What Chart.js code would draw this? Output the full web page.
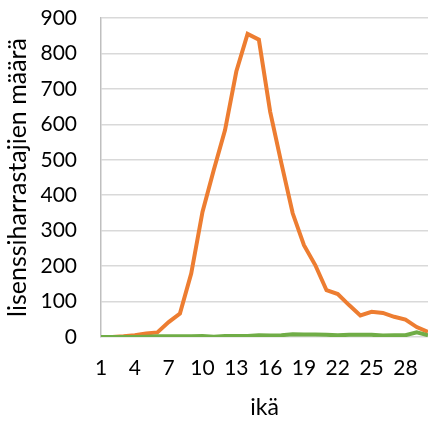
<!DOCTYPE html>
<html>
<head>
<meta charset="utf-8">
<script src="https://cdn.jsdelivr.net/npm/chart.js@4/dist/chart.umd.min.js"></script>
<style>
  body { margin: 0; background: #fff; }
  canvas { display: block; }
</style>
</head>
<body>
<canvas id="chart" width="428" height="423"></canvas>
<script>
// ikä 1..30
const ages = Array.from({ length: 30 }, (_, i) => String(i + 1));
// oranssi sarja
const orangeValues = [0, 0, 2, 5, 10, 13, 42, 66, 179, 353, 471, 584, 749, 855, 839,
  636, 490, 349, 259, 203, 132, 121, 90, 61, 71, 68, 57, 49, 28, 14];
// vihreä sarja
const greenValues = [0, 0, 0, 0, 1, 2, 2, 2, 2, 3, 1, 3, 3, 3, 5,
  4, 5, 8, 7, 7, 6, 5, 6, 6, 6, 4, 5, 5, 13, 5];
const yTicks = [0, 100, 200, 300, 400, 500, 600, 700, 800, 900];

const fontFamily = 'Lato, "Open Sans", sans-serif';

new Chart(document.getElementById('chart'), {
  type: 'line',
  data: {
    labels: ages,
    datasets: [
      {
        label: 'orange',
        data: orangeValues,
        borderColor: '#ED7D31',
        borderWidth: 4,
        pointRadius: 0,
        tension: 0,
        order: 2
      },
      {
        label: 'green',
        data: greenValues,
        borderColor: '#70AD47',
        borderWidth: 4,
        pointRadius: 0,
        tension: 0,
        order: 1
      }
    ]
  },
  options: {
    responsive: false,
    animation: false,
    layout: { padding: { top: 18, right: 0, left: 0, bottom: 0 } },
    plugins: {
      legend: { display: false },
      tooltip: { enabled: false }
    },
    scales: {
      x: {
        type: 'category',
        offset: false,
        grid: { display: false, drawTicks: false },
        border: { display: false },
        afterFit: function (axis) {
          // akselin korkeus kiinteäksi, jotta kuva-alue osuu oikeaan kohtaan
          axis.height = 86;
          axis.paddingLeft = 0;
          axis.paddingRight = 0;
        },
        ticks: {
          autoSkip: false,
          maxRotation: 0,
          color: '#000',
          padding: 19,
          font: { family: fontFamily, size: 21 },
          callback: function (value, index) {
            return index % 3 === 0 ? ages[index] : '';
          }
        },
        title: {
          display: true,
          text: 'ikä',
          color: '#000',
          font: { family: fontFamily, size: 23 },
          padding: { top: 0, bottom: 2 }
        }
      },
      y: {
        min: 0,
        max: 900,
        afterBuildTicks: function (axis) {
          axis.ticks = yTicks.map(v => ({ value: v }));
        },
        afterFit: function (axis) {
          axis.width = 101;
          axis.paddingTop = 0;
          axis.paddingBottom = 0;
        },
        grid: { color: '#d9d9d9', lineWidth: 1.5, drawTicks: false },
        border: { color: '#bfbfbf', width: 1.5 },
        ticks: {
          color: '#000',
          padding: 24,
          font: { family: fontFamily, size: 21 }
        },
        title: {
          display: true,
          text: 'lisenssiharrastajien määrä',
          color: '#000',
          font: { family: fontFamily, size: 25 },
          padding: { top: 3, bottom: 0 }
        }
      }
    }
  }
});
</script>
</body>
</html>
